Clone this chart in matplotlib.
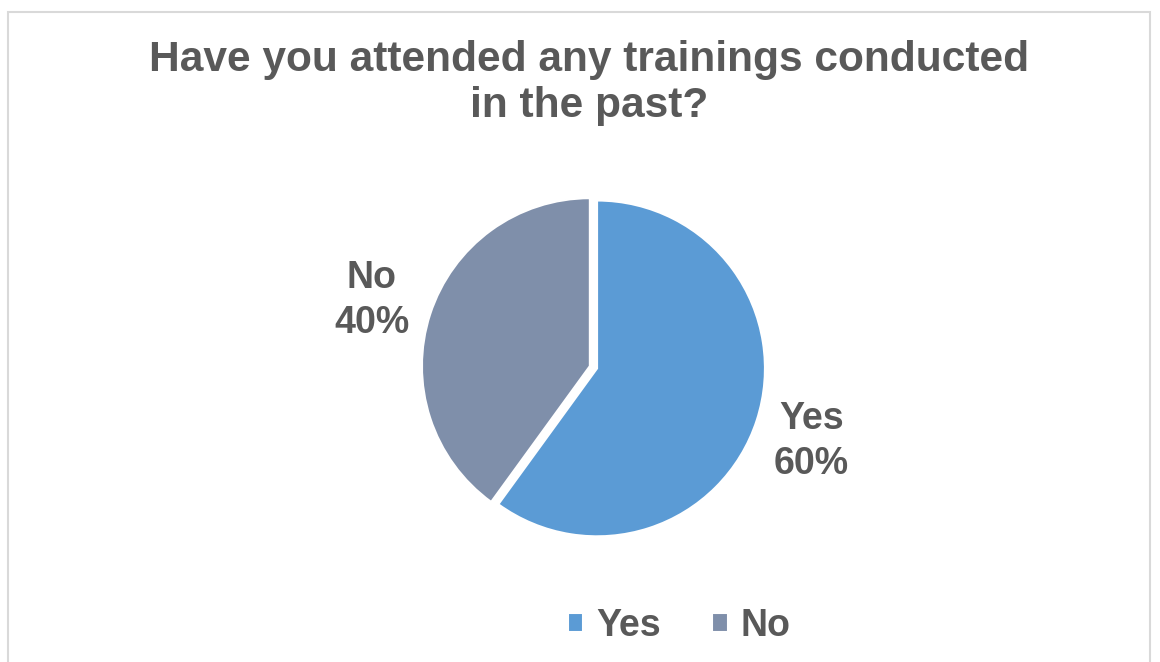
import matplotlib.pyplot as plt
from matplotlib.patches import Rectangle

labels = ['Yes', 'No']
shares = [60, 40]
colors = ['#5B9BD5', '#7F8FAA']
title = "Have you attended any trainings conducted\nin the past?"

plt.rcParams['font.family'] = ['Liberation Sans', 'DejaVu Sans']
text_color = '#595959'

fig = plt.figure(figsize=(11.6, 6.62), dpi=100)

# light grey chart border (bottom edge cut off in the reference)
fig.patches.append(Rectangle((8 / 1160, -0.05), 1142 / 1160, (662 - 12) / 662 + 0.05,
                             transform=fig.transFigure, fill=False,
                             edgecolor='#D9D9D9', linewidth=1.5))

fig.text(589 / 1160, 1 - 83 / 662, title, ha='center', va='center', fontsize=30.6,
         fontweight='bold', color=text_color, linespacing=1.2)

ax = fig.add_axes([0.3348, 0.1426, 0.3474, 0.6088])
wedges, _ = ax.pie(shares, colors=colors, startangle=90, counterclock=False,
                   explode=[0.045, 0], wedgeprops=dict(edgecolor='white', linewidth=1.5))
ax.set_xlim(-1.2, 1.2)
ax.set_ylim(-1.2, 1.2)
ax.set_aspect('equal')

ax.text(1.32, -0.45, f"{labels[0]}\n{shares[0]}%", ha='center', va='center',
        fontsize=27, fontweight='bold', color=text_color, linespacing=1.3)
ax.text(-1.30, 0.39, f"{labels[1]}\n{shares[1]}%", ha='center', va='center',
        fontsize=27, fontweight='bold', color=text_color, linespacing=1.3)

fig.legend(wedges, labels, loc='center', bbox_to_anchor=(0.5855, 1 - 626 / 662),
           ncol=2, frameon=False, handlelength=0.42, handleheight=0.42,
           handletextpad=0.35, columnspacing=1.35,
           prop=dict(size=27, weight='bold'), labelcolor=text_color)

fig.savefig('out.png', dpi=100)
